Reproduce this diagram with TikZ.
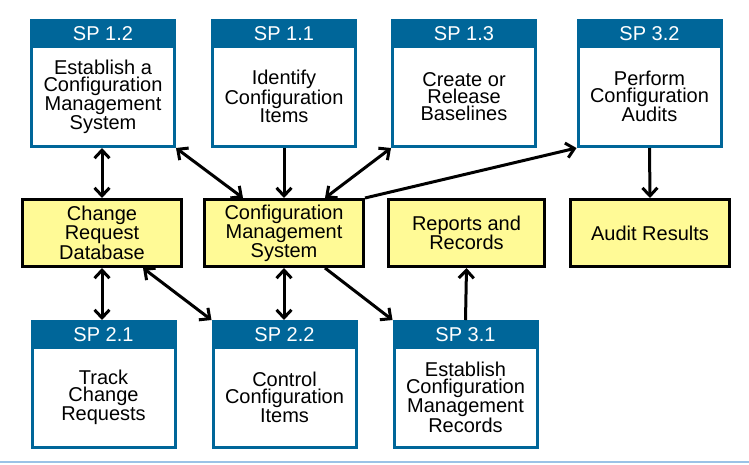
\documentclass[tikz,border=0pt]{standalone}
\usepackage{fontspec}
\setmainfont{Liberation Sans}
\usetikzlibrary{arrows.meta}
\definecolor{spblue}{RGB}{0,102,153}
\definecolor{cmyellow}{RGB}{255,250,150}
\definecolor{ruleblue}{RGB}{155,194,230}

\begin{document}
\begin{tikzpicture}[x=1pt, y=-1pt, >={Straight Barb[length=8pt,width=15pt]},
  sphead/.style={fill=spblue, draw=spblue, line width=3pt, text=white,
    minimum width=143pt, minimum height=26pt, inner sep=0pt,
    font=\fontsize{20pt}{20pt}\selectfont},
  spbody/.style={draw=spblue, fill=white, line width=3pt,
    minimum width=143pt, minimum height=100pt, inner sep=0pt, align=center,
    font=\fontsize{20pt}{17pt}\selectfont},
  store/.style={draw=black, fill=cmyellow, line width=3pt,
    minimum width=159pt, minimum height=67pt, inner sep=0pt, align=center,
    font=\fontsize{20pt}{17pt}\selectfont},
  link/.style={line width=3pt}]
\useasboundingbox (0,0) rectangle (749,464);

% ===== TOP row: specific practices =====
\node[sphead, anchor=north] (sp12h) at (103,19) {SP 1.2};
\node[spbody, anchor=north] (sp12) at ([yshift=3pt]sp12h.south) {Establish a\\Configuration\\Management\\System};
\node[sphead, anchor=north] (sp11h) at (284,19) {SP 1.1};
\node[spbody, anchor=north] (sp11) at ([yshift=3pt]sp11h.south) {Identify\\Configuration\\Items};
\node[sphead, anchor=north] (sp13h) at (464,19) {SP 1.3};
\node[spbody, anchor=north] (sp13) at ([yshift=3pt]sp13h.south) {Create or\\Release\\Baselines};
\node[sphead, anchor=north] (sp32h) at (649.5,19) {SP 3.2};
\node[spbody, anchor=north] (sp32) at ([yshift=3pt]sp32h.south) {Perform\\Configuration\\Audits};

% ===== MIDDLE row: work products =====
\node[store] (crd) at (102,233) {Change\\Request\\Database};
\node[store] (cms) at (284,233) {Configuration\\Management\\System};
\node[store, minimum width=156pt] (rep) at (466.5,233) {Reports and\\Records};
\node[store] (aud) at (650,233) {Audit Results};

% ===== BOTTOM row =====
\node[sphead, anchor=north] (sp21h) at (103.5,320) {SP 2.1};
\node[spbody, anchor=north] (sp21) at ([yshift=3pt]sp21h.south) {Track\\Change\\Requests};
\node[sphead, anchor=north] (sp22h) at (284.5,320) {SP 2.2};
\node[spbody, anchor=north] (sp22) at ([yshift=3pt]sp22h.south) {Control\\Configuration\\Items};
\node[sphead, anchor=north] (sp31h) at (465.5,320) {SP 3.1};
\node[spbody, anchor=north] (sp31) at ([yshift=3pt]sp31h.south) {Establish\\Configuration\\Management\\Records};

% Arrows, upper half
\draw[<->, link] (crd.north) -- (crd.north |- sp12.south);
\draw[<->, link] (sp12.south east) -- ([xshift=40pt]cms.north west);
\draw[->, link] (sp11.south) -- (cms.north);
\draw[<->, link] (sp13.south west) -- ([xshift=-40pt]cms.north east);
\draw[->, link] (cms.north east) -- (sp32.south west);
\draw[->, link] (sp32.south) -- (aud.north);

% Arrows, lower half
\draw[<->, link] (crd.south) -- (crd.south |- sp21h.north);
\draw[<->, link] ([xshift=-40pt]crd.south east) -- (sp22h.north west);
\draw[<->, link] (cms.south) -- (cms.south |- sp22h.north);
\draw[->, link] ([xshift=-40pt]cms.south east) -- (sp31h.north west);
\draw[->, link] (sp31h.north) -- (rep.south);

% Rule at the foot
\draw[ruleblue, line width=1.5pt] (0,462) -- (749,462);
\end{tikzpicture}
\end{document}
